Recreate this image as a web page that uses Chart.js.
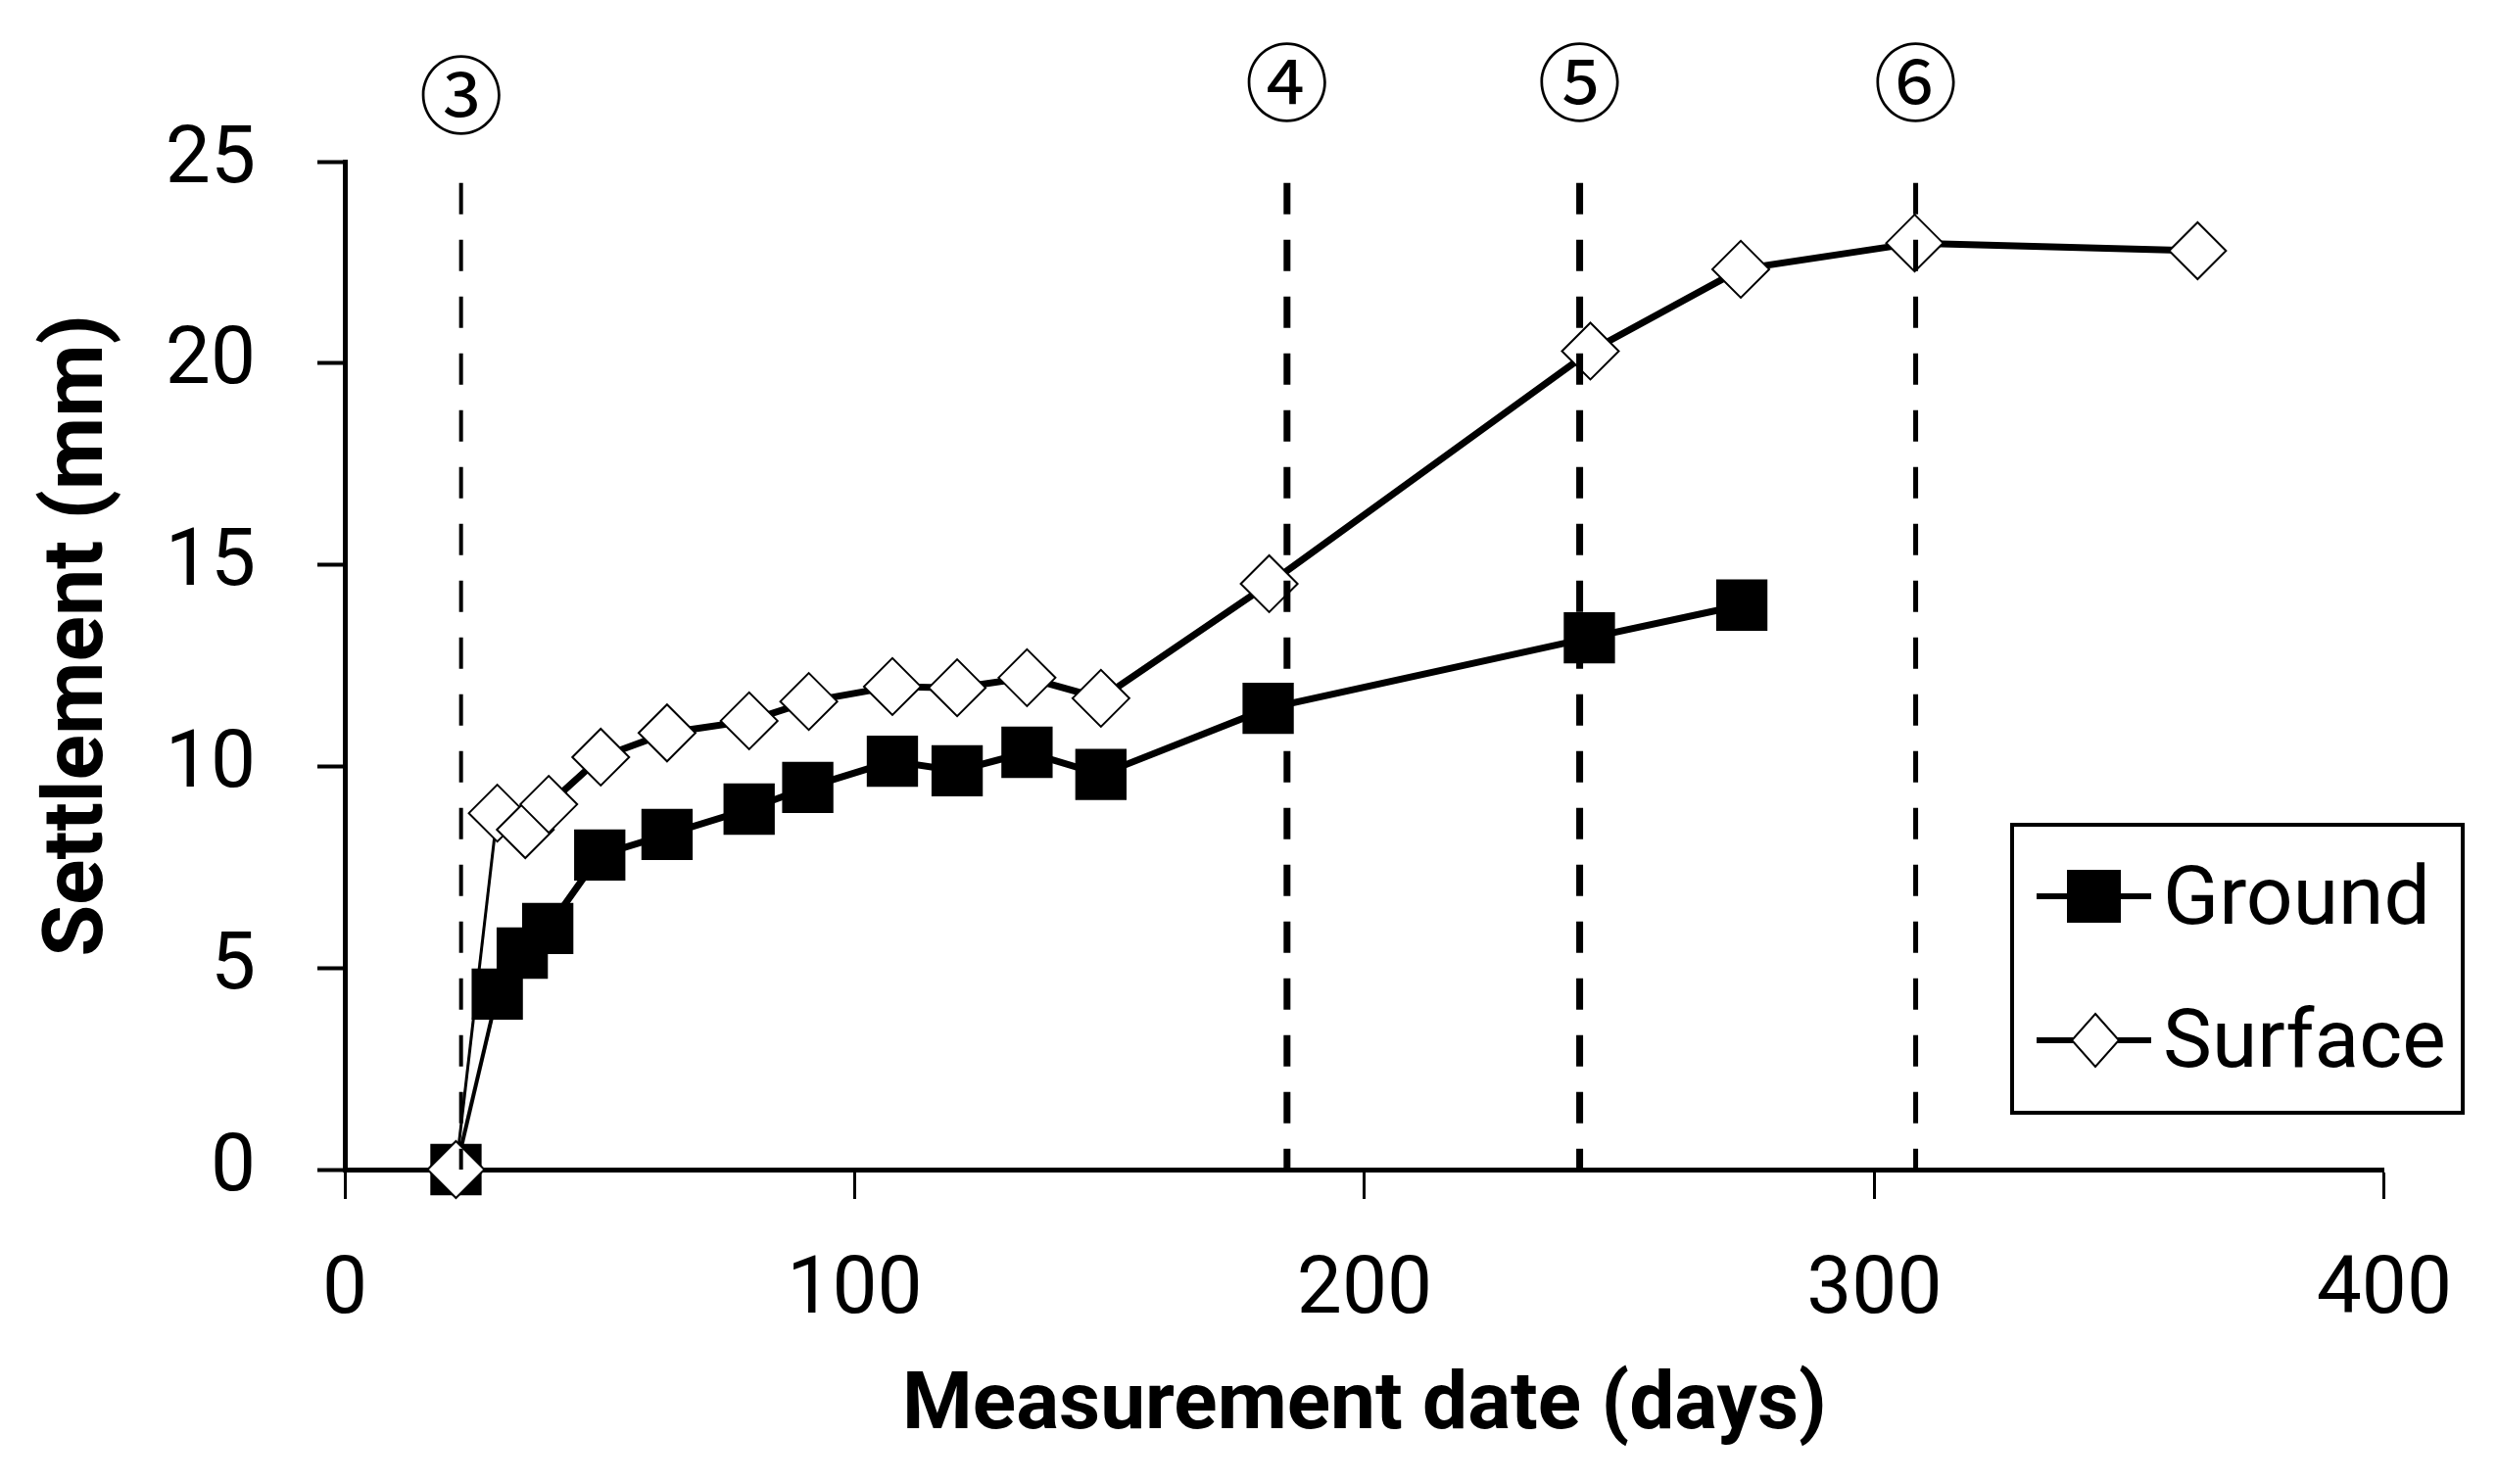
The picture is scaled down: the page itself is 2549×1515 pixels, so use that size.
<!DOCTYPE html>
<html><head><meta charset="utf-8">
<script src="https://cdn.jsdelivr.net/npm/chart.js@4/dist/chart.umd.min.js"></script>
<style>html,body{margin:0;padding:0;background:#fff;}#wrap{width:2549px;height:1515px;position:relative;}</style>
</head><body><div id="wrap"><canvas id="c"></canvas></div>
<script>
// ---- data ----
const groundDays = [21.8, 29.9, 34.8, 39.8, 50.0, 63.2, 79.3, 90.8, 107.4, 120.1, 133.8, 148.3, 181.1, 244.1, 274.0];
const groundSettlement = [0, 4.35, 5.37, 5.98, 7.8, 8.31, 8.94, 9.48, 10.13, 9.89, 10.35, 9.8, 11.44, 13.19, 14.0];
const surfaceDays = [21.8, 29.9, 35.4, 40.0, 50.2, 63.2, 79.3, 91.0, 107.4, 120.1, 133.8, 148.3, 181.3, 244.3, 273.8, 307.9, 363.4];
const surfaceSettlement = [0, 8.84, 8.43, 9.06, 10.23, 10.83, 11.13, 11.61, 11.98, 11.95, 12.2, 11.69, 14.53, 20.3, 22.33, 22.98, 22.79];
const stageDays = [22.8, 184.8, 242.2, 308.1];
const stageLabels = ['③', '④', '⑤', '⑥'];
const stageTop = 24.47;
const xTicks = [0, 100, 200, 300, 400];
const yTicks = [0, 5, 10, 15, 20, 25];
const seriesNames = ['Ground', 'Surface'];
const xTitle = 'Measurement date (days)';
const yTitle = 'Settlement (mm)';

// ---- styles ----
const stageWidths = [4, 7, 7, 5];
const FONT = 'Roboto';

const toPts = (xs, ys) => xs.map((x, i) => ({x: x, y: ys[i]}));

const datasets = [];
stageDays.forEach((d, i) => {
  datasets.push({
    label: 'stage' + i,
    data: [{x: d, y: stageTop}, {x: d, y: 0}],
    borderColor: '#000', borderWidth: stageWidths[i], borderDash: [32, 26],
    pointRadius: 0, order: -1, clip: false
  });
});
datasets.push({
  label: seriesNames[1], data: toPts(surfaceDays, surfaceSettlement),
  borderColor: '#000', borderWidth: 7, pointStyle: 'rectRot', pointRadius: 29,
  pointBackgroundColor: '#fff', pointBorderColor: '#000', pointBorderWidth: 2,
  order: 0, clip: false,
  segment: {borderWidth: c => c.p0DataIndex === 0 ? 3 : 7}
});
datasets.push({
  label: seriesNames[0], data: toPts(groundDays, groundSettlement),
  borderColor: '#000', borderWidth: 7, pointStyle: 'rect', pointRadius: 37,
  pointBackgroundColor: '#000', pointBorderColor: '#000', pointBorderWidth: 0,
  order: 1, clip: false,
  segment: {borderWidth: c => c.p0DataIndex === 0 ? 4 : 7}
});

const extras = {
  id: 'extras',
  afterDatasetsDraw(chart) {
    const ctx = chart.ctx, xs = chart.scales.x;
    ctx.save();
    ctx.fillStyle = '#000';
    ctx.textAlign = 'center';
    ctx.textBaseline = 'middle';
    ctx.font = '86px "Noto Sans CJK JP"';
    stageLabels.forEach((t, i) => {
      const px = xs.getPixelForValue(stageDays[i]);
      ctx.fillText(t, px, i === 0 ? 97 : 84);
    });
    // y title
    ctx.save();
    ctx.translate(82, 649);
    ctx.rotate(-Math.PI / 2);
    ctx.font = 'bold 86px ' + FONT;
    ctx.fillText(yTitle, 0, 0);
    ctx.restore();
    // legend
    const bx = 2054, by = 842, bw = 460, bh = 294;
    ctx.lineWidth = 4; ctx.strokeStyle = '#000';
    ctx.fillStyle = '#fff';
    ctx.fillRect(bx, by, bw, bh);
    ctx.strokeRect(bx, by, bw, bh);
    ctx.lineWidth = 6;
    const rows = [915, 1062];
    rows.forEach(y => { ctx.beginPath(); ctx.moveTo(2079, y); ctx.lineTo(2196, y); ctx.stroke(); });
    ctx.fillStyle = '#000';
    ctx.fillRect(2110, 888, 55, 54);
    ctx.beginPath();
    ctx.moveTo(2139, 1035); ctx.lineTo(2163, 1062); ctx.lineTo(2139, 1089); ctx.lineTo(2115, 1062); ctx.closePath();
    ctx.fillStyle = '#fff'; ctx.fill(); ctx.lineWidth = 2; ctx.stroke();
    ctx.fillStyle = '#000';
    ctx.textAlign = 'left'; ctx.textBaseline = 'alphabetic';
    ctx.font = '84px ' + FONT;
    ctx.fillText(seriesNames[0], 2208, 943);
    ctx.fillText(seriesNames[1], 2208, 1089);
    ctx.restore();
  }
};

new Chart(document.getElementById('c'), {
  type: 'line',
  data: {datasets: datasets},
  options: {
    responsive: true, maintainAspectRatio: false, animation: false,
    devicePixelRatio: 1,
    layout: {padding: {top: 165, right: 108, bottom: 0, left: 0}},
    plugins: {legend: {display: false}, tooltip: {enabled: false}},
    elements: {line: {tension: 0}},
    scales: {
      x: {
        type: 'linear', min: xTicks[0], max: xTicks[xTicks.length - 1],
        afterFit: s => { s.height = 321; },
        afterBuildTicks: s => { s.ticks = xTicks.map(v => ({value: v})); },
        border: {display: true, color: '#000', width: 5},
        grid: {drawOnChartArea: false, drawTicks: true, tickLength: 30, tickWidth: 3, tickColor: '#000', color: '#000'},
        ticks: {color: '#000', font: {family: FONT, size: 82, lineHeight: 1.2}, padding: 46, maxRotation: 0, autoSkip: false},
        title: {display: true, text: xTitle, color: '#000', font: {family: FONT, size: 82, weight: 'bold', lineHeight: 1.2}, padding: {top: 0, bottom: 28}}
      },
      y: {
        type: 'linear', min: yTicks[0], max: yTicks[yTicks.length - 1],
        afterFit: s => { s.width = 352; },
        afterBuildTicks: s => { s.ticks = yTicks.map(v => ({value: v})); },
        border: {display: true, color: '#000', width: 5},
        grid: {drawOnChartArea: false, drawTicks: true, tickLength: 28, tickWidth: 4, tickColor: '#000', color: '#000'},
        ticks: {color: '#000', font: {family: FONT, size: 82, lineHeight: 1.2}, padding: 63, autoSkip: false}
      }
    }
  },
  plugins: [extras]
});
</script></body></html>
